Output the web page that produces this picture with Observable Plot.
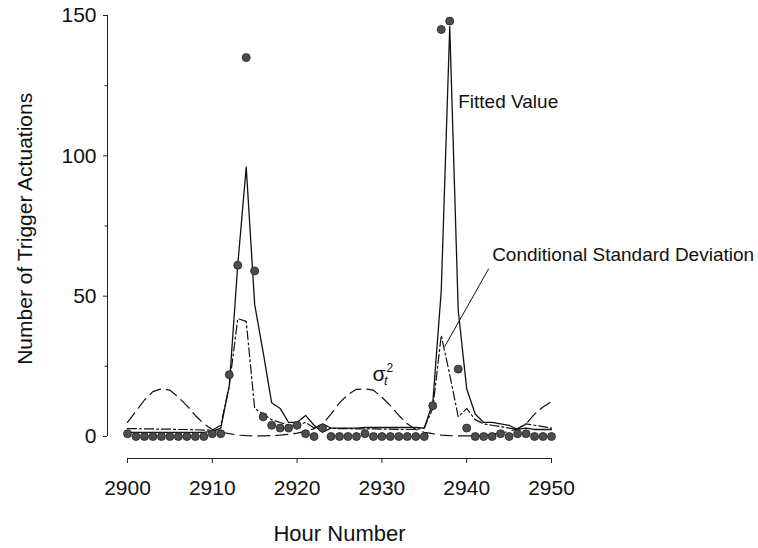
<!DOCTYPE html>
<html>
<head>
<meta charset="utf-8">
<script src="https://cdn.jsdelivr.net/npm/d3@7"></script>
<script src="https://cdn.jsdelivr.net/npm/@observablehq/plot@0.6"></script>
<style>
  html, body { margin: 0; padding: 0; background: #fff; }
  #chart svg { display: block; }
</style>
</head>
<body>
<div id="chart"></div>
<script>
// ---- data ----
const hours = d3.range(2900, 2951);
const counts = [1,0,0,0,0,0,0,0,0,0, 1,1,22,61,135,59,7,4,3,3, 4,1,0,3,0,0,0,0,1,0, 0,0,0,0,0,0,11,145,148,24, 3,0,0,0,1,0,1,1,0,0, 0];
const fitted = [1.5,1.5,1.5,1.5,1.5,1.5,1.5,1.5,1.5,1.5, 1.8,3,18,61,96,47,30,12,10,5, 5,7.5,4,1.5,3,3,3,3,3.2,3.2, 3.2,3.2,3.2,3.2,3.2,3,12,52,146,45, 17,8,5,5,4.5,4,2.5,3,2.5,2.5, 2.5];
const condSD = [2.8,2.8,2.7,2.7,2.6,2.6,2.5,2.5,2.4,2.3, 2.3,4,18,42,41,10,8,6,5,4, 4,5,3,4.5,3,2.8,2.8,2.7,2.7,2.7, 2.6,2.6,2.5,2.5,2.5,3,10,36,22,7, 10,6,4.5,4,3.5,3,2.5,4.5,4,3.5, 3];
const sigma2 = [5,9,13,16,17,16.5,14,11,7.5,4.5, 2.5,1.5,1,0.5,0.3,0.2,0.2,0.3,0.5,0.8, 1.2,1.8,2.8,4.5,8,12,15,16.8,17,16.5, 14,11,7.5,4.5,2.5,1.5,1,0.5,0.3,0.2, 0.2,0.3,0.5,0.8,1.2,1.8,2.8,4.5,8,10.5, 12.5];

const xTicks = [2900, 2910, 2920, 2930, 2940, 2950];
const yTicks = [0, 50, 100, 150];
const yMinorTicks = [25, 75, 125];

const xTitle = "Hour Number";
const yTitle = "Number of Trigger Actuations";
const notes = [
  {text: "Fitted Value", hour: 2939.0, value: 119.3},
  {text: "Conditional Standard Deviation", hour: 2943.0, value: 64.8}
];
const leader = [{h1: 2942.6, v1: 59.8, h2: 2937.4, v2: 32.0}];
const sigmaLabel = [{hour: 2928.9, value: 22.2}];

// ---- table ----
const rows = hours.map((h, i) => ({hour: h, count: counts[i], fitted: fitted[i], sd: condSD[i], s2: sigma2[i]}));

const font = "'Liberation Sans', Arial, Helvetica, sans-serif";

const chart = Plot.plot({
  width: 758,
  height: 548,
  marginLeft: 107,
  marginRight: 207,
  marginTop: 15,
  marginBottom: 90,
  x: {domain: [2900, 2950], insetLeft: 20},
  y: {domain: [0, 150], insetBottom: 22},
  style: {fontFamily: font, background: "#fff", color: "#111"},
  marks: [
    // axis lines
    Plot.ruleX([2900], {y1: 0, y2: 150, dx: -20, stroke: "#222", strokeWidth: 1}),
    Plot.ruleY([0], {x1: 2900, x2: 2950, dy: 22, stroke: "#222", strokeWidth: 1}),
    Plot.axisY({ticks: yTicks, tickSize: 4, tickPadding: 7, fontSize: 21, label: null, stroke: "#222"}),
    Plot.axisY({ticks: yMinorTicks, tickSize: 2.5, tickFormat: () => "", label: null, stroke: "#222"}),
    Plot.axisX({ticks: xTicks, tickSize: 5, tickPadding: 17, fontSize: 21, label: null, tickFormat: d => String(d), stroke: "#222"}),
    // titles
    Plot.text([xTitle], {x: () => 2925, frameAnchor: "bottom", textAnchor: "middle", dy: 82, fontSize: 22, fill: "#111"}),
    Plot.text([yTitle], {y: () => 74, frameAnchor: "left", textAnchor: "middle", dx: -82, rotate: -90, fontSize: 21, fill: "#111"}),
    // series
    Plot.line(rows, {x: "hour", y: "s2", stroke: "#111", strokeWidth: 1.2, strokeDasharray: "12,6"}),
    Plot.line(rows, {x: "hour", y: "sd", stroke: "#111", strokeWidth: 1.2, strokeDasharray: "9,3,2,3"}),
    Plot.line(rows, {x: "hour", y: "fitted", stroke: "#111", strokeWidth: 1.3}),
    Plot.dot(rows, {x: "hour", y: "count", r: 4, fill: "#4d4d4d", stroke: "#222", strokeWidth: 0.8}),
    // annotations
    Plot.link(leader, {x1: "h1", y1: "v1", x2: "h2", y2: "v2", stroke: "#111", strokeWidth: 1}),
    Plot.text(notes, {x: "hour", y: "value", text: "text", textAnchor: "start", fontSize: 19, fill: "#111"}),
    Plot.text(sigmaLabel, {x: "hour", y: "value", text: () => "σ", textAnchor: "start", fontSize: 21, fill: "#111"}),
    Plot.text(sigmaLabel, {x: "hour", y: "value", text: () => "t", textAnchor: "start", fontSize: 13, fontStyle: "italic", dx: 11.5, dy: 7, fill: "#111"}),
    Plot.text(sigmaLabel, {x: "hour", y: "value", text: () => "2", textAnchor: "start", fontSize: 12, dx: 14, dy: -6.5, fill: "#111"})
  ]
});

document.getElementById("chart").appendChild(chart);
</script>
</body>
</html>
